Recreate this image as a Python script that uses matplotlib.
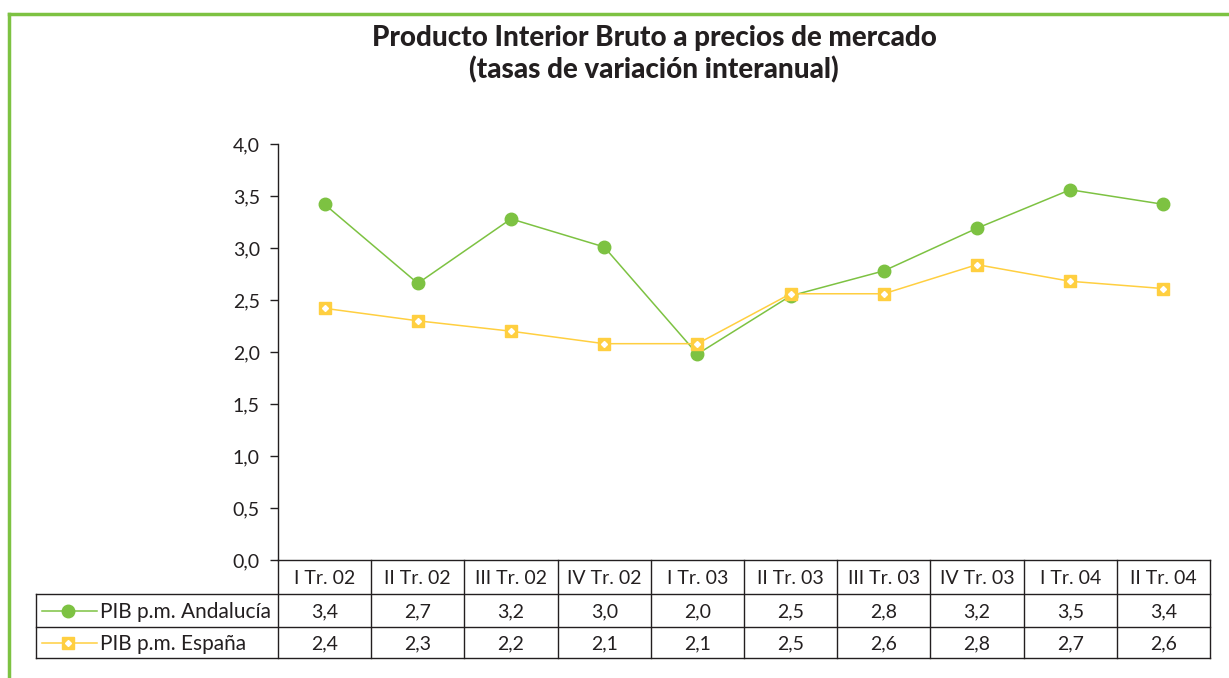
import matplotlib.pyplot as plt
from matplotlib.lines import Line2D

plt.rcParams['font.family'] = ['Lato', 'DejaVu Sans']

categories = ['I Tr. 02', 'II Tr. 02', 'III Tr. 02', 'IV Tr. 02', 'I Tr. 03',
              'II Tr. 03', 'III Tr. 03', 'IV Tr. 03', 'I Tr. 04', 'II Tr. 04']
andalucia = [3.42, 2.66, 3.28, 3.01, 1.98, 2.54, 2.78, 3.19, 3.56, 3.42]
espana = [2.42, 2.30, 2.20, 2.08, 2.08, 2.56, 2.56, 2.84, 2.68, 2.61]
andalucia_txt = ['3,4', '2,7', '3,2', '3,0', '2,0', '2,5', '2,8', '3,2', '3,5', '3,4']
espana_txt = ['2,4', '2,3', '2,2', '2,1', '2,1', '2,5', '2,6', '2,8', '2,7', '2,6']
yticks = [0, 0.5, 1, 1.5, 2, 2.5, 3, 3.5, 4]

green = '#7DC242'
yellow = '#FFCF40'
dark = '#231F20'

W, H = 1229, 678
fig = plt.figure(figsize=(W / 100, H / 100), dpi=100)

# pixel positions of the plot area
x0, x1, ytop, ybot = 278, 1210, 144, 560
ax = fig.add_axes([x0 / W, 1 - ybot / H, (x1 - x0) / W, (ybot - ytop) / H])
n = len(categories)
xs = list(range(n))
ax.plot(xs, andalucia, color=green, lw=1.1, marker='o', ms=9, zorder=3)
ax.plot(xs, espana, color=yellow, lw=1.1, marker='s', ms=8, zorder=4)
ax.plot(xs, espana, ls='none', marker='D', ms=3, color='white', zorder=5)
ax.set_xlim(-0.5, n - 0.5)
ax.set_ylim(0, 4)
ax.set_yticks(yticks)
ax.set_yticklabels([f'{v:.1f}'.replace('.', ',') for v in yticks], fontsize=14, color=dark)
ax.set_xticks([])
for s in ['top', 'right']:
    ax.spines[s].set_visible(False)
ax.spines['left'].set_color(dark)
ax.spines['bottom'].set_color(dark)
ax.spines['left'].set_linewidth(1)
ax.spines['bottom'].set_linewidth(1)
ax.tick_params(axis='y', direction='out', length=6, width=1, color=dark, pad=7)
ax.patch.set_alpha(0)

# overlay in pixel coords for table, title and frame
ov = fig.add_axes([0, 0, 1, 1])
ov.set_xlim(0, W)
ov.set_ylim(H, 0)
ov.axis('off')
ov.patch.set_alpha(0)

# green frame (runs off the right and bottom edges)
ov.plot([9, W + 5], [14, 14], color=green, lw=2.5)
ov.plot([9, 9], [14, H + 5], color=green, lw=2.5)

ov.text(654, 38, 'Producto Interior Bruto a precios de mercado', ha='center', va='center',
        fontsize=20, fontweight='black', color=dark)
ov.text(654, 70, '(tasas de variación interanual)', ha='center', va='center',
        fontsize=20, fontweight='black', color=dark)

# data table
colw = (x1 - x0) / n
r0, r1, r2, r3 = ybot, 594, 627, 658
tl = 36
lc = dict(color=dark, lw=1)
for y in (r1, r2, r3):
    ov.plot([tl, x1], [y, y], **lc)
ov.plot([tl, tl], [r1, r3], **lc)
for i in range(n + 1):
    xv = x0 + i * colw
    ov.plot([xv, xv], [r0, r3], **lc)
for i in range(n):
    xc = x0 + (i + 0.5) * colw
    ov.text(xc, (r0 + r1) / 2 + 2, categories[i], ha='center', va='center', fontsize=14, color=dark)
    ov.text(xc, (r1 + r2) / 2 + 1, andalucia_txt[i], ha='center', va='center', fontsize=14, color=dark)
    ov.text(xc, (r2 + r3) / 2 + 1, espana_txt[i], ha='center', va='center', fontsize=14, color=dark)

# legend keys in row headers
for yc, col, mk, ms, lab in [((r1 + r2) / 2, green, 'o', 9, 'PIB p.m. Andalucía'),
                            ((r2 + r3) / 2, yellow, 's', 8, 'PIB p.m. España')]:
    ov.add_line(Line2D([42, 97], [yc, yc], color=col, lw=1.1))
    ov.plot([68], [yc], marker=mk, ms=ms, color=col, ls='none')
    if mk == 's':
        ov.plot([68], [yc], marker='D', ms=3, color='white', ls='none')
    ov.text(100, yc + 1, lab, ha='left', va='center', fontsize=15, color=dark)

fig.savefig('out.png', dpi=100)
